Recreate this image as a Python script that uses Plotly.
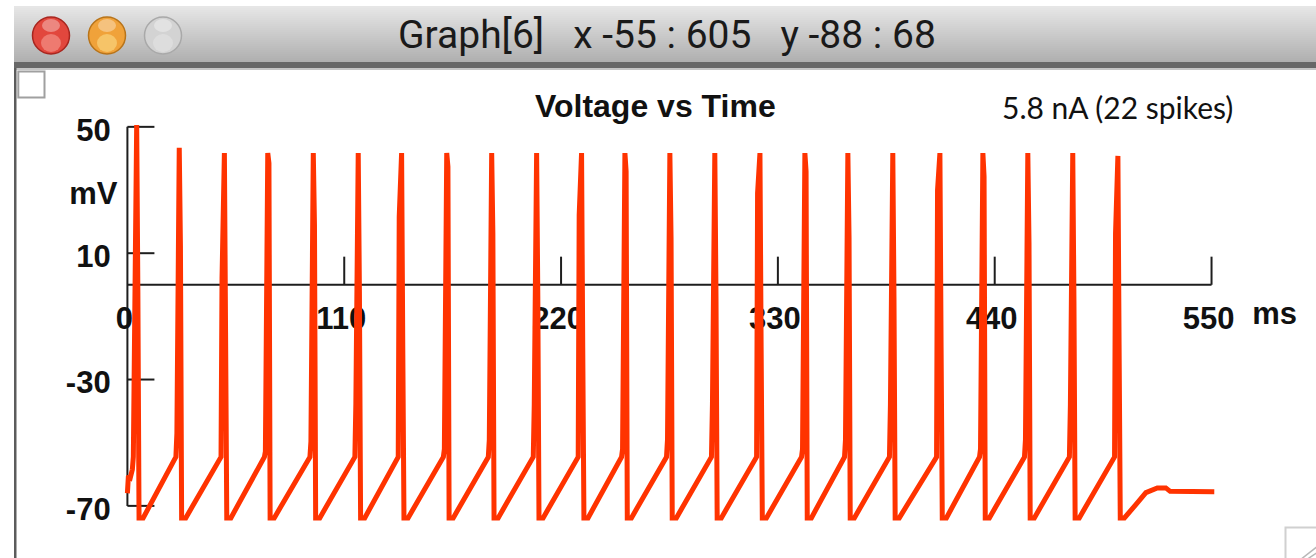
import plotly.graph_objects as go

# ---------------- data ----------------
spike_t = [4.4, 26.0, 48.9, 70.9, 94.0, 116.8, 138.8, 161.7, 184.5, 207.3, 230.1, 252.1,
           274.9, 297.7, 320.6, 343.4, 365.2, 388.0, 411.9, 433.7, 456.5, 479.3, 502.2]
spike_peak = [50.6, 43.4, 41.7, 41.7, 41.7, 41.7, 41.7, 41.7, 41.7, 41.7, 41.7, 41.7,
              41.7, 41.7, 41.7, 41.7, 41.7, 41.7, 41.7, 41.7, 41.7, 41.7, 40.8]
up_mid = [-20.0, -47.0, 2.0, -52.8, -49.7, -37.5, 21.6, -52.0, -49.0, -38.0, 22.1, -52.0,
          -49.0, -38.0, 29.0, -52.0, -49.0, -38.0, 30.0, -52.0, -49.0, -38.0, 16.3]
down_mid = [-2.2, 12.1, -15.0, 38.5, 19.0, -2.2, -20.0, 37.4, 16.3, -3.7, -20.0, 35.9,
            14.8, -3.7, -20.0, 35.9, 15.0, -4.0, -20.0, 34.3, 13.2, -5.3, -19.0]
trough_v = -73.8
ramp_top_v = -55.5
pre_spike_v = -54.5

start_t = [0.0, 0.5, 1.5, 2.5]
start_v = [-66.0, -60.5, -61.0, -58.5]
tail_t = [506.6, 511.6, 516.7, 520.0, 522.5, 526.8, 529.0, 551.4]
tail_v = [-73.3, -69.6, -65.8, -64.8, -64.3, -64.3, -65.4, -65.5]

y_ticks = [50, 10, -30, -70]
x_ticks = [0, 110, 220, 330, 440, 550]
x_range = [-55, 603]
y_range = [-86.5, 68]

# ---------------- build trace ----------------
t_all, v_all = list(start_t), list(start_v)
n = len(spike_t)
for i in range(n):
    t, p, u, d = spike_t[i], spike_peak[i], up_mid[i], down_mid[i]
    t_all += [t - 1.4, t - 0.9, t - 0.3, t + 0.3, t + 0.9, t + 1.5, t + 3.6]
    v_all += [pre_spike_v, u, p, p, d, trough_v, trough_v]
    if i + 1 < n:
        t_all.append(spike_t[i + 1] - 2.2)
        v_all.append(ramp_top_v)
t_all += tail_t
v_all += tail_v

# ---------------- layout geometry ----------------
W, H = 1316, 558
L, T = 19, 70
PW, PH = W - L, H - T


def px(x):
    return (x - L) / PW


def py(y):
    return (H - y) / PH


RED = "#ff3300"
AX = "#1e1e1e"
BOLD = "Liberation Sans, Arial, sans-serif"

fig = go.Figure()

# tick labels as a text trace (beneath the voltage trace)
lab_x, lab_y, lab_t, lab_pos = [], [], [], []
for v in y_ticks:
    lab_x.append(-8.5); lab_y.append(v - 1.9); lab_t.append(str(v)); lab_pos.append("middle left")
lab_x.append(-5.0); lab_y.append(28.0); lab_t.append("mV"); lab_pos.append("middle left")
for v in x_ticks:
    lab_x.append(v - 1.5); lab_y.append(-11.5); lab_t.append(str(v)); lab_pos.append("middle center")
lab_x.append(582.0); lab_y.append(-10.0); lab_t.append("ms"); lab_pos.append("middle center")

fig.add_trace(go.Scatter(
    x=lab_x, y=lab_y, text=lab_t, mode="text", textposition=lab_pos,
    textfont=dict(family=BOLD, size=31, color="#111111", weight="bold"),
    hoverinfo="skip", showlegend=False, cliponaxis=False))

fig.add_trace(go.Scatter(
    x=t_all, y=v_all, mode="lines",
    line=dict(color=RED, width=5),
    hoverinfo="skip", showlegend=False))

shapes = []
# NEURON style axes
shapes.append(dict(type="line", xref="x", yref="y", x0=0, x1=0, y0=min(y_ticks), y1=max(y_ticks),
                   line=dict(color=AX, width=2), layer="below"))
for v in y_ticks:
    shapes.append(dict(type="line", xref="x", yref="y", x0=0, x1=13.7, y0=v, y1=v,
                       line=dict(color=AX, width=2), layer="below"))
shapes.append(dict(type="line", xref="x", yref="y", x0=0, x1=max(x_ticks), y0=0, y1=0,
                   line=dict(color=AX, width=2), layer="below"))
for v in x_ticks[1:]:
    shapes.append(dict(type="line", xref="x", yref="y", x0=v, x1=v, y0=0, y1=8.9,
                       line=dict(color=AX, width=2), layer="below"))

# window chrome: title bar gradient
top, bot = 6, 62
nb = 28
c0, c1 = (230, 230, 230), (176, 176, 176)
for k in range(nb):
    y0 = top + (bot - top) * k / nb
    y1 = top + (bot - top) * (k + 1) / nb
    f = k / (nb - 1)
    c = tuple(int(round(a + (b - a) * f)) for a, b in zip(c0, c1))
    shapes.append(dict(type="rect", xref="paper", yref="paper",
                       x0=px(14), x1=px(W + 2), y0=py(y1 + 0.3), y1=py(y0),
                       fillcolor="rgb(%d,%d,%d)" % c, line=dict(width=0), layer="above"))
shapes.append(dict(type="rect", xref="paper", yref="paper", x0=px(14), x1=px(W + 2),
                   y0=py(68), y1=py(62), fillcolor="#676767", line=dict(width=0), layer="above"))
shapes.append(dict(type="rect", xref="paper", yref="paper", x0=px(14), x1=px(W + 2),
                   y0=py(70), y1=py(68), fillcolor="#c4c4c4", line=dict(width=0), layer="above"))
# left window border
shapes.append(dict(type="rect", xref="paper", yref="paper", x0=px(14), x1=px(16.5),
                   y0=py(H + 2), y1=py(68), fillcolor="#5c5c5c", line=dict(width=0), layer="above"))
# small check box
shapes.append(dict(type="rect", xref="paper", yref="paper", x0=px(18.3), x1=px(44.5),
                   y0=py(97.5), y1=py(71.5), fillcolor="white",
                   line=dict(color="#a0a0a0", width=2), layer="above"))
# traffic lights
lights = [(51, "#e2473d", "#a8261f", "#f7a49b"), (107, "#f0a23a", "#b8741a", "#fbe08e"),
          (163, "#d3d3d3", "#a9a9a9", "#e6e6e6")]
for cx, fc, lc, hc in lights:
    shapes.append(dict(type="circle", xref="paper", yref="paper", x0=px(cx - 18.5), x1=px(cx + 18.5),
                       y0=py(35.5 + 18.5), y1=py(35.5 - 18.5), fillcolor=fc,
                       line=dict(color=lc, width=1.5), layer="above"))
    shapes.append(dict(type="circle", xref="paper", yref="paper", x0=px(cx - 10), x1=px(cx + 10),
                       y0=py(52), y1=py(34), fillcolor=hc, opacity=0.55,
                       line=dict(width=0), layer="above"))
    shapes.append(dict(type="circle", xref="paper", yref="paper", x0=px(cx - 9), x1=px(cx + 9),
                       y0=py(32), y1=py(19), fillcolor="white", opacity=0.35,
                       line=dict(width=0), layer="above"))
# resize grip
shapes.append(dict(type="rect", xref="paper", yref="paper", x0=px(1285.5), x1=px(W + 4),
                   y0=py(H + 4), y1=py(527.5), fillcolor="white",
                   line=dict(color="#d0d0d0", width=2), layer="above"))
for o in (0, 6, 12):
    shapes.append(dict(type="line", xref="paper", yref="paper", x0=px(1300 + o), x1=px(W + 2),
                       y0=py(H + 2), y1=py(H - 12 + o), line=dict(color="#b8b8b8", width=1.5),
                       layer="above"))

annotations = [
    dict(text="Graph[6]&nbsp;&nbsp;&nbsp;x -55 : 605&nbsp;&nbsp;&nbsp;y -88 : 68", xref="paper", yref="paper",
         x=px(667), y=py(35), xanchor="center", yanchor="middle", showarrow=False,
         font=dict(family="Roboto, Arial, sans-serif", size=39, color="#1a1a1a")),
    dict(text="<b>Voltage vs Time</b>", xref="paper", yref="paper",
         x=px(655), y=py(106), xanchor="center", yanchor="middle", showarrow=False,
         font=dict(family=BOLD, size=32, color="#111111")),
    dict(text="5.8 nA (22 spikes)", xref="paper", yref="paper",
         x=px(1117), y=py(107), xanchor="center", yanchor="middle", showarrow=False,
         font=dict(family="Lato, Open Sans, sans-serif", size=30, color="#111111")),
]

fig.update_layout(
    width=W, height=H, autosize=False,
    margin=dict(l=L, r=0, t=T, b=0, pad=0),
    paper_bgcolor="white", plot_bgcolor="white",
    xaxis=dict(range=x_range, visible=False, fixedrange=True),
    yaxis=dict(range=y_range, visible=False, fixedrange=True),
    shapes=shapes, annotations=annotations, showlegend=False,
)

fig.write_html("out.html", config={"displayModeBar": False})
